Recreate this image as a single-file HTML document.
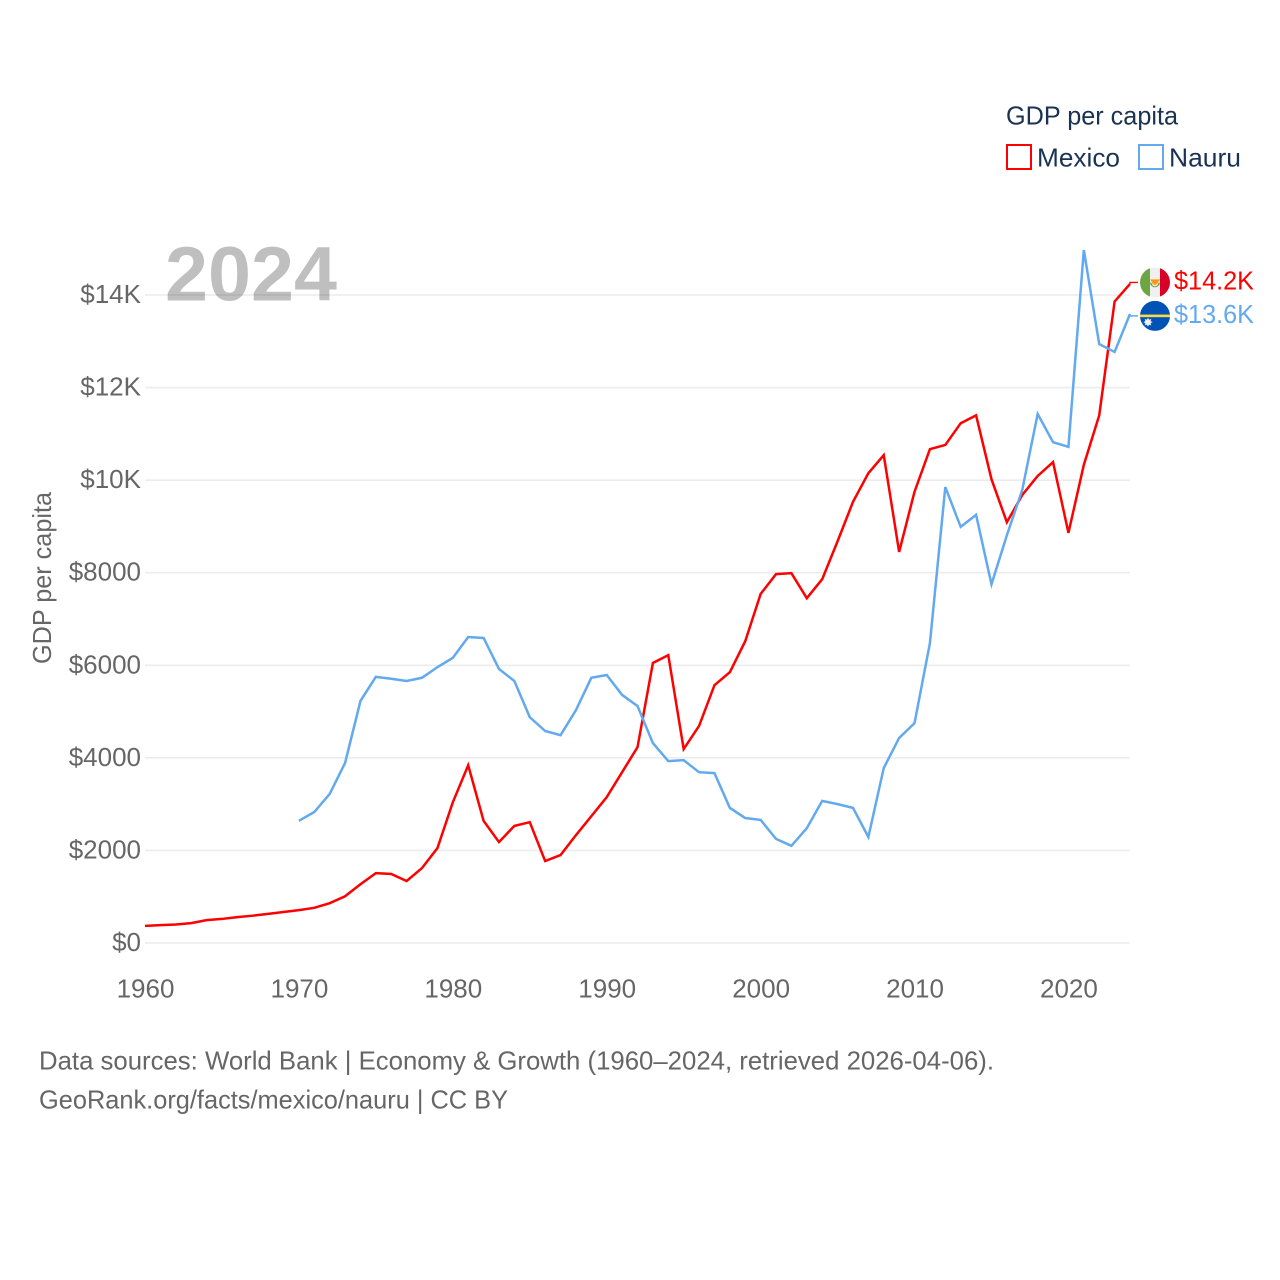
<!DOCTYPE html>
<html lang="en">
<head>
<meta charset="utf-8">
<title>GDP per capita: Mexico and Nauru</title>
<style>
  html, body { margin: 0; padding: 0; background: #ffffff; }
  svg { display: block; }
  text { font-family: "Liberation Sans", sans-serif; }
</style>
</head>
<body>
<svg id="chart" xmlns="http://www.w3.org/2000/svg" width="1280" height="1280" viewBox="0 0 1280 1280">
  <rect x="0" y="0" width="1280" height="1280" fill="#ffffff"/>
  <g id="grid"></g>
  <g id="y-ticks"></g>
  <g id="x-ticks"></g>
  <text transform="translate(51,578) rotate(-90)" text-anchor="middle" font-size="26" fill="#666666" textLength="172" lengthAdjust="spacingAndGlyphs">GDP per capita</text>
  <text id="year-title" x="165" y="300.5" font-size="77" font-weight="700" fill="#000000" fill-opacity="0.25" textLength="172" lengthAdjust="spacingAndGlyphs"></text>
  <g id="series"></g>

  <g id="flag-mexico">
    <clipPath id="clip-mexico"><circle id="clip-mexico-circle" cx="0" cy="0" r="15"/></clipPath>
    <g clip-path="url(#clip-mexico)">
      <rect x="-15" y="-15" width="30" height="30" fill="#f0f0f0"/>
      <rect x="-15" y="-15" width="10" height="30" fill="#6da544"/>
      <rect x="5" y="-15" width="10" height="30" fill="#d80027"/>
      <path d="M-5 0 A5 5 0 0 0 5 0 L3 1 A3 3 0 0 1 -3 1 Z" fill="#6da544"/>
      <path d="M-5 -3 L5 -3 L2.5 1 L0 3 L-2.5 1 Z" fill="#ff9811"/>
    </g>
  </g>
  <g id="flag-nauru">
    <clipPath id="clip-nauru"><circle cx="0" cy="0" r="15"/></clipPath>
    <g clip-path="url(#clip-nauru)">
      <rect x="-15" y="-15" width="30" height="30" fill="#0052b4"/>
      <rect x="-15" y="-1.3" width="30" height="2.6" fill="#ffda44"/>
      <path d="M-7 1.8 L-5.9 3.9 L-3.7 3 L-4.4 5.3 L-2.2 6.3 L-4.4 7.3 L-3.7 9.6 L-5.9 8.7 L-7 10.8 L-8.1 8.7 L-10.3 9.6 L-9.6 7.3 L-11.8 6.3 L-9.6 5.3 L-10.3 3 L-8.1 3.9 Z" fill="#f0f0f0"/>
    </g>
  </g>
  <g id="end-labels"></g>

  <g>
    <text x="1006" y="124.5" font-size="26" fill="#1a3353" textLength="172" lengthAdjust="spacingAndGlyphs">GDP per capita</text>
    <g>
      <rect x="1007" y="145" width="24" height="24" fill="#ffffff" stroke="#ff0000" stroke-width="2"/>
      <text x="1037" y="166.5" font-size="26" fill="#1a3353" textLength="83" lengthAdjust="spacingAndGlyphs">Mexico</text>
    </g>
    <g>
      <rect x="1139" y="145" width="24" height="24" fill="#ffffff" stroke="#62a9ef" stroke-width="2"/>
      <text x="1169" y="166.5" font-size="26" fill="#1a3353" textLength="72" lengthAdjust="spacingAndGlyphs">Nauru</text>
    </g>
  </g>

  <text x="39" y="1069.5" font-size="26" fill="#666666" textLength="955" lengthAdjust="spacingAndGlyphs">Data sources: World Bank | Economy &amp; Growth (1960–2024, retrieved 2026-04-06).</text>
  <text x="39" y="1108.5" font-size="26" fill="#666666" textLength="469" lengthAdjust="spacingAndGlyphs">GeoRank.org/facts/mexico/nauru | CC BY</text>
</svg>

<script>
const years = [1960,1961,1962,1963,1964,1965,1966,1967,1968,1969,1970,1971,1972,1973,1974,1975,1976,1977,1978,1979,1980,1981,1982,1983,1984,1985,1986,1987,1988,1989,1990,1991,1992,1993,1994,1995,1996,1997,1998,1999,2000,2001,2002,2003,2004,2005,2006,2007,2008,2009,2010,2011,2012,2013,2014,2015,2016,2017,2018,2019,2020,2021,2022,2023,2024];
const mexicoGdp = [370,385,400,430,495,520,560,590,630,670,710,760,860,1010,1270,1510,1490,1340,1620,2050,3040,3840,2640,2180,2530,2610,1770,1900,2330,2740,3150,3690,4230,6050,6220,4190,4690,5570,5850,6520,7540,7970,7990,7450,7860,8680,9530,10150,10540,8450,9750,10670,10760,11230,11400,10020,9090,9680,10090,10390,8860,10330,11400,13860,14240];
const nauruGdp = [null,null,null,null,null,null,null,null,null,null,2640,2830,3220,3890,5230,5750,5710,5660,5730,5960,6160,6610,6590,5920,5660,4880,4580,4490,5030,5730,5790,5360,5120,4320,3930,3950,3690,3670,2920,2700,2660,2250,2100,2480,3070,3000,2920,2290,3780,4430,4750,6480,9850,8990,9250,7750,8810,9790,11430,10820,10720,14970,12940,12770,13590];
const yTickValues = [0,2000,4000,6000,8000,10000,12000,14000];
const yTickLabels = ['$0','$2000','$4000','$6000','$8000','$10K','$12K','$14K'];
const xTickValues = [1960,1970,1980,1990,2000,2010,2020];
const xTickLabels = ['1960','1970','1980','1990','2000','2010','2020'];

const NS = 'http://www.w3.org/2000/svg';
const x = function (year) { return 145 + (year - 1960) * (1130 - 145) / (2024 - 1960); };
const y = function (value) { return 943 - value * (943 - 295) / 14000; };

function make(tag, parent) {
  const el = document.createElementNS(NS, tag);
  parent.appendChild(el);
  return el;
}

const grid = document.getElementById('grid');
const yTicks = document.getElementById('y-ticks');
yTickValues.forEach(function (v, i) {
  const line = make('line', grid);
  
  
  line.setAttribute('x1', 145);
  line.setAttribute('x2', 1130);
  line.setAttribute('y1', y(v));
  line.setAttribute('y2', y(v));
  line.setAttribute('stroke', '#ececec');
  line.setAttribute('stroke-width', 1.6);
  const t = make('text', yTicks);
  
  
  t.setAttribute('x', 141);
  t.setAttribute('y', y(v) + 8);
  t.setAttribute('text-anchor', 'end');
  t.setAttribute('font-size', 26);
  t.setAttribute('fill', '#666666');
  t.textContent = yTickLabels[i];
});

const xTicks = document.getElementById('x-ticks');
xTickValues.forEach(function (v, i) {
  const t = make('text', xTicks);
  
  
  t.setAttribute('x', x(v) + 0.5);
  t.setAttribute('y', 997.5);
  t.setAttribute('text-anchor', 'middle');
  t.setAttribute('font-size', 26);
  t.setAttribute('fill', '#666666');
  t.textContent = xTickLabels[i];
});

document.getElementById('year-title').textContent = String(years[years.length - 1]);

function linePath(values) {
  let d = '';
  values.forEach(function (v, i) {
    if (v === null) return;
    d += (d === '' ? 'M' : 'L') + x(years[i]).toFixed(2) + ' ' + y(v).toFixed(2);
  });
  return d;
}

const seriesGroup = document.getElementById('series');
const endLabels = document.getElementById('end-labels');

const mexicoLine = make('path', seriesGroup);


mexicoLine.setAttribute('d', linePath(mexicoGdp));
mexicoLine.setAttribute('fill', 'none');
mexicoLine.setAttribute('stroke', '#ff0000');
mexicoLine.setAttribute('stroke-width', 2.5);

const nauruLine = make('path', seriesGroup);


nauruLine.setAttribute('d', linePath(nauruGdp));
nauruLine.setAttribute('fill', 'none');
nauruLine.setAttribute('stroke', '#62a9ef');
nauruLine.setAttribute('stroke-width', 2.5);

function endMarker(values, color, flagId, offset, nameStem) {
  const last = values[values.length - 1];
  const endX = x(years[years.length - 1]);
  const endY = y(last);
  const flagY = endY + offset;
  document.getElementById(flagId).setAttribute('transform', 'translate(1155,' + flagY + ')');
  const conn = make('path', seriesGroup);
  
  
  conn.setAttribute('d', 'M' + endX + ' ' + endY + 'L' + endX + ' ' + flagY + 'L' + (endX + 8) + ' ' + flagY);
  conn.setAttribute('fill', 'none');
  conn.setAttribute('stroke', color);
  conn.setAttribute('stroke-width', 1.4);
  const t = make('text', endLabels);
  
  
  t.setAttribute('x', 1174);
  t.setAttribute('y', flagY + 7);
  t.setAttribute('font-size', 26);
  t.setAttribute('fill', color);
  t.setAttribute('textLength', 80);
  t.setAttribute('lengthAdjust', 'spacingAndGlyphs');
  t.textContent = '$' + (last / 1000).toFixed(1) + 'K';
}
endMarker(mexicoGdp, '#ff0000', 'flag-mexico', -1.5, 'mexico');
endMarker(nauruGdp, '#62a9ef', 'flag-nauru', 1.9, 'nauru');
</script>
</body>
</html>
